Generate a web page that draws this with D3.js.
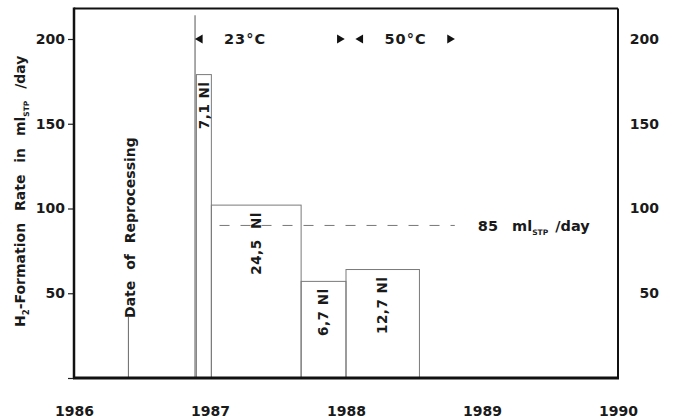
<!DOCTYPE html>
<html>
<head>
<meta charset="utf-8">
<script src="https://cdn.jsdelivr.net/npm/d3@7"></script>
<style>
  body { margin: 0; background: #fff; }
  svg { display: block; font-family: "DejaVu Sans", sans-serif; font-weight: bold; fill: #1a1a1a; }
</style>
</head>
<body>
<svg id="svg" width="675" height="418"></svg>
<script>
// H2 formation rate after reprocessing

var yearTicks = [1986, 1987, 1988, 1989, 1990];
var rateTicks = [0, 50, 100, 150, 200];

// steps of the formation rate (start, end in years, rate in ml_STP/day)
var stepStart = [1986.90, 1987.01, 1987.67, 1988.00];
var stepEnd = [1987.01, 1987.67, 1988.00, 1988.54];
var stepRate = [179, 102, 57, 64];
var stepVolume = ["7,1 Nl", "24,5  Nl", "6,7 Nl", "12,7 Nl"];

// date of reprocessing marker
var reprocessingDate = 1986.40;
var reprocessingMark = 36;

// temperature periods
var tempLabel = ["23°C", "50°C"];
var tempStart = [1986.89, 1988.07];
var tempEnd = [1987.99, 1988.80];

// mean rate (dashed)
var meanRate = 90;
var meanFrom = 1987.07;
var meanTo = 1988.80;

var svg = d3.select("svg");

var x = d3.scaleLinear().domain([1986, 1990]).range([74, 618]);
var y = d3.scaleLinear().domain([0, 200]).range([378, 39]);
var yTop = 218; // top of the frame in rate units

// frame
svg.append("line")
    .attr("x1", x(1986)).attr("x2", x(1990))
    .attr("y1", y(yTop)).attr("y2", y(yTop))
    .attr("stroke", "#111").attr("stroke-width", 2);
svg.append("line")
    .attr("x1", x(1990)).attr("x2", x(1990))
    .attr("y1", y(yTop)).attr("y2", y(0))
    .attr("stroke", "#111").attr("stroke-width", 2);

// left axis with ticks
var leftAxis = svg.append("g")
    .attr("transform", "translate(" + x(1986) + ",0)")
    .call(d3.axisLeft(y).tickValues(rateTicks).tickSize(6).tickPadding(3));
leftAxis.select(".domain").remove();
leftAxis.selectAll("line").attr("stroke", "#222").attr("stroke-width", 1.2);
leftAxis.selectAll("text")
    .text(function(d) { return d === 0 ? "" : d; })
    .attr("font-family", "DejaVu Sans").attr("font-size", 14).attr("fill", "#1a1a1a");

// right axis labels only
var rightAxis = svg.append("g")
    .attr("transform", "translate(" + x(1990) + ",0)")
    .call(d3.axisRight(y).tickValues(rateTicks.slice(1)).tickSize(0));
rightAxis.select(".domain").remove();
rightAxis.selectAll("text")
    .attr("x", 41).attr("text-anchor", "end")
    .attr("font-family", "DejaVu Sans").attr("font-size", 14).attr("fill", "#1a1a1a");

// bottom axis labels
var bottomAxis = svg.append("g")
    .attr("transform", "translate(0," + y(0) + ")")
    .call(d3.axisBottom(x).tickValues(yearTicks).tickFormat(d3.format("d")).tickSize(0).tickPadding(28));
bottomAxis.select(".domain").remove();
bottomAxis.selectAll("text")
    .attr("font-family", "DejaVu Sans").attr("font-size", 14).attr("fill", "#1a1a1a");

// steps as open rectangles
svg.append("g").selectAll("rect")
    .data(stepRate)
    .join("rect")
    .attr("x", function(d, i) { return x(stepStart[i]); })
    .attr("width", function(d, i) { return x(stepEnd[i]) - x(stepStart[i]); })
    .attr("y", function(d) { return y(d); })
    .attr("height", function(d) { return y(0) - y(d); })
    .attr("fill", "none")
    .attr("stroke", "#7a7a7a")
    .attr("stroke-width", 1);

// volume labels inside the steps
svg.append("g").selectAll("text")
    .data(stepVolume)
    .join("text")
    .attr("transform", function(d, i) {
        var cx = (x(stepStart[i]) + x(stepEnd[i])) / 2;
        return "translate(" + cx + "," + (y(stepRate[i]) + 7) + ") rotate(-90)";
    })
    .attr("text-anchor", "end")
    .attr("dy", "0.35em")
    .attr("font-size", 13.5)
    .attr("letter-spacing", 0.5)
    .style("white-space", "pre")
    .text(function(d) { return d; });

// start marker of the 23 °C period
svg.append("line")
    .attr("x1", x(tempStart[0])).attr("x2", x(tempStart[0]))
    .attr("y1", y(214)).attr("y2", y(0))
    .attr("stroke", "#555").attr("stroke-width", 1);

// date of reprocessing
svg.append("line")
    .attr("x1", x(reprocessingDate)).attr("x2", x(reprocessingDate))
    .attr("y1", y(reprocessingMark)).attr("y2", y(0))
    .attr("stroke", "#666").attr("stroke-width", 1);
svg.append("text")
    .attr("transform", "translate(" + (x(reprocessingDate) + 2) + "," + (y(reprocessingMark) + 1) + ") rotate(-90)")
    .attr("dy", "0.35em")
    .attr("font-size", 14)
    .attr("word-spacing", 6)
    .text("Date of Reprocessing");

// mean rate, dashed
svg.append("line")
    .attr("x1", x(meanFrom)).attr("x2", x(meanTo))
    .attr("y1", y(meanRate)).attr("y2", y(meanRate))
    .attr("stroke", "#777").attr("stroke-width", 1)
    .attr("stroke-dasharray", "10,11");
var meanText = svg.append("text")
    .attr("x", x(meanTo) + 23).attr("y", y(meanRate))
    .attr("dy", "0.35em")
    .attr("font-size", 14.5)
    .attr("word-spacing", 2);
meanText.append("tspan").text("85  ml").style("white-space", "pre");
meanText.append("tspan").attr("font-size", 7.5).attr("dy", 4).text("STP");
meanText.append("tspan").attr("dy", -4).style("white-space", "pre").text(" /day");

// temperature periods with arrow heads
var arrow = d3.symbol().type(d3.symbolTriangle).size(34);
tempLabel.forEach(function(label, i) {
    var ay = y(200);
    svg.append("path")
        .attr("d", arrow)
        .attr("transform", "translate(" + (x(tempStart[i]) + 5) + "," + ay + ") rotate(-90)")
        .attr("fill", "#111");
    svg.append("path")
        .attr("d", arrow)
        .attr("transform", "translate(" + (x(tempEnd[i]) - 5) + "," + ay + ") rotate(90)")
        .attr("fill", "#111");
    svg.append("text")
        .attr("x", x(tempStart[i]) + 29).attr("y", ay)
        .attr("dy", "0.35em")
        .attr("font-size", 14.5)
        .attr("letter-spacing", 1)
        .text(label);
});

// axis lines drawn last so they sit on top
svg.append("line")
    .attr("x1", x(1986) - 1).attr("x2", x(1990) + 1)
    .attr("y1", y(0)).attr("y2", y(0))
    .attr("stroke", "#111").attr("stroke-width", 3);
svg.append("line")
    .attr("x1", x(1986)).attr("x2", x(1986))
    .attr("y1", y(yTop) - 1).attr("y2", y(0))
    .attr("stroke", "#111").attr("stroke-width", 2.5);

// y axis title
var yTitle = svg.append("text")
    .attr("transform", "translate(20," + ((y(yTop) + y(0)) / 2 - 2) + ") rotate(-90)")
    .attr("text-anchor", "middle")
    .attr("dy", "0.35em")
    .attr("font-size", 14)
    .attr("word-spacing", 7);
yTitle.append("tspan").text("H");
yTitle.append("tspan").attr("font-size", 8.5).attr("dy", 4).text("2");
yTitle.append("tspan").attr("dy", -4).text("-Formation Rate in ml");
yTitle.append("tspan").attr("font-size", 7.5).attr("dy", 4).text("STP");
yTitle.append("tspan").attr("dy", -4).style("white-space", "pre").text(" /day");
</script>
</body>
</html>
